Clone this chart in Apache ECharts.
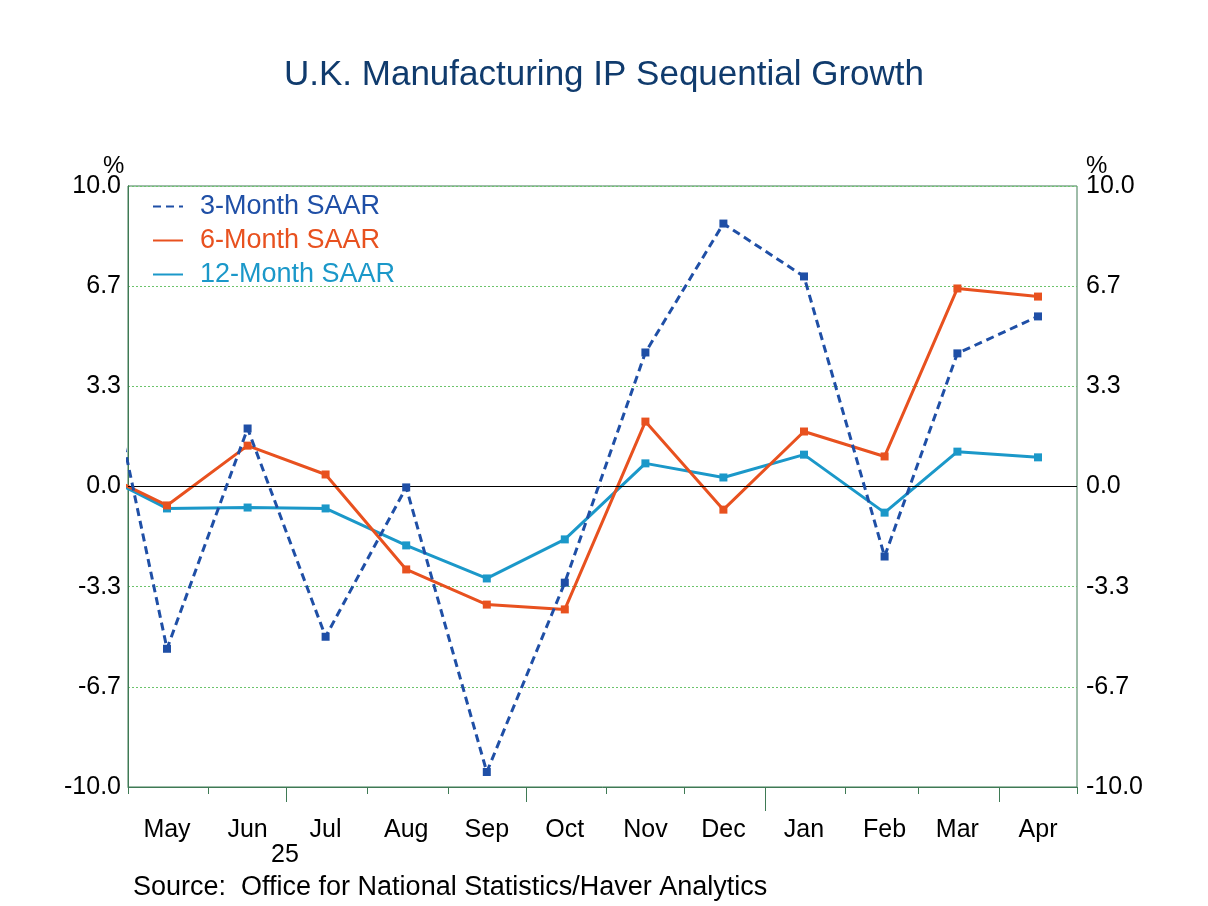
<!DOCTYPE html>
<html>
<head>
<meta charset="utf-8">
<script src="https://cdn.jsdelivr.net/npm/echarts@6/dist/echarts.min.js"></script>
<style>html,body{margin:0;padding:0;background:#fff;}#c{width:1208px;height:906px;}</style>
</head>
<body>
<div id="c"></div>
<script>
// Months shown (May 2024 .. Apr 2025); first data point (Apr 2024) lies left of the axis and is clipped
const months = ['May','Jun','Jul','Aug','Sep','Oct','Nov','Dec','Jan','Feb','Mar','Apr'];
const pointMonths = ['2024-04','2024-05','2024-06','2024-07','2024-08','2024-09','2024-10','2024-11','2024-12','2025-01','2025-02','2025-03','2025-04'];
const threeMonth = [6.9, -5.4, 1.93, -5.0, -0.03, -9.5, -3.2, 4.46, 8.75, 6.99, -2.33, 4.43, 5.66];
const sixMonth   = [0.63, -0.63, 1.36, 0.4, -2.76, -3.93, -4.09, 2.16, -0.77, 1.83, 1.0, 6.59, 6.32];
const twelveMonth= [0.59, -0.73, -0.7, -0.73, -1.96, -3.06, -1.76, 0.77, 0.3, 1.06, -0.87, 1.16, 0.97];
const yMin = -10, yMax = 10, yStep = 10 / 3;

const DAY = 86400000;
const origin = Date.UTC(2024, 4, 1);
function dayOf(y, m, d) { return (Date.UTC(y, m, d) - origin) / DAY; }
const monthStarts = [];
for (let i = 0; i <= 12; i++) monthStarts.push(dayOf(2024, 4 + i, 1));
const labelDays = months.map((m, i) => monthStarts[i] + 15);
const pointDays = pointMonths.map(s => { const [y, m] = s.split('-').map(Number); return dayOf(y, m - 1, 16); });
const quarterTicks = [monthStarts[2], monthStarts[5], monthStarts[11]];
const yearTicks = [monthStarts[8]];

function pairs(vals) { return vals.map((v, i) => [pointDays[i], v]); }

const green = '#3f7a55';
const c3 = '#1f4fa6', c6 = '#e8511f', c12 = '#1b98c9';
const font = 'Liberation Sans, Arial, sans-serif';

const chart = echarts.init(document.getElementById('c'));
const xBase = { type: 'value', min: 0, max: 365, gridIndex: 0, position: 'bottom', splitLine: { show: false } };
function fmtY(v) { const r = Math.round(v * 10) / 10; return (Math.abs(r) < 0.05 ? 0 : r).toFixed(1); }
chart.setOption({
  animation: false,
  backgroundColor: '#fff',
  textStyle: { fontFamily: font },
  title: { text: 'U.K. Manufacturing IP Sequential Growth', left: 'center', top: 53,
    textStyle: { fontFamily: font, fontSize: 35, fontWeight: 'normal', color: '#103b6d' } },
  grid: { left: 128, right: 131, top: 186, bottom: 119, show: true, borderColor: green, borderWidth: 1 },
  legend: {
    orient: 'vertical', left: 147, top: 188, itemWidth: 30, itemHeight: 12, itemGap: 7,
    itemStyle: { opacity: 0 },
    textStyle: { fontFamily: font, fontSize: 27, padding: [0, 0, 0, 12] },
    data: [
      { name: '3-Month SAAR', textStyle: { color: c3 } },
      { name: '6-Month SAAR', textStyle: { color: c6 } },
      { name: '12-Month SAAR', textStyle: { color: c12 } }
    ]
  },
  xAxis: [
    Object.assign({}, xBase, {
      axisLine: { show: true, onZero: false, lineStyle: { color: green } },
      axisTick: { show: true, customValues: monthStarts, length: 7, lineStyle: { color: green } },
      axisLabel: { show: true, customValues: labelDays, margin: 31, fontFamily: font, fontSize: 25, color: '#000',
        formatter: v => { const i = labelDays.indexOf(v); return i >= 0 ? months[i] : ''; } }
    }),
    Object.assign({}, xBase, {
      axisLine: { show: false, onZero: false },
      axisTick: { show: true, customValues: quarterTicks, length: 15, lineStyle: { color: green } },
      axisLabel: { show: false }
    }),
    Object.assign({}, xBase, {
      axisLine: { show: false, onZero: false },
      axisTick: { show: true, customValues: yearTicks, length: 24, lineStyle: { color: green } },
      axisLabel: { show: false }
    })
  ],
  yAxis: [
    { type: 'value', min: yMin, max: yMax, interval: yStep, position: 'left',
      axisLine: { show: true, lineStyle: { color: green } }, axisTick: { show: false },
      axisLabel: { margin: 7, fontFamily: font, fontSize: 25, color: '#000', formatter: fmtY },
      splitLine: { show: true, lineStyle: { color: '#6cc46c', type: [2, 2], width: 1 } }
    },
    { type: 'value', min: yMin, max: yMax, interval: yStep, position: 'right',
      axisLine: { show: true, lineStyle: { color: green } }, axisTick: { show: false },
      axisLabel: { margin: 9, fontFamily: font, fontSize: 25, color: '#000', formatter: fmtY },
      splitLine: { show: false }
    }
  ],
  graphic: [
    { type: 'text', left: 103, top: 154, style: { text: '%', fontFamily: font, fontSize: 24, fill: '#000' } },
    { type: 'text', left: 1086, top: 154, style: { text: '%', fontFamily: font, fontSize: 24, fill: '#000' } },
    { type: 'text', left: 271, top: 843, style: { text: '25', fontFamily: font, fontSize: 25, fill: '#000' } },
    { type: 'text', left: 133, top: 874, style: { text: 'Source:  Office for National Statistics/Haver Analytics', fontFamily: font, fontSize: 27, fill: '#000' } }
  ],
  series: [
    { name: '12-Month SAAR', type: 'line', data: pairs(twelveMonth), clip: true, symbol: 'rect', symbolSize: 8,
      lineStyle: { color: c12, width: 3 }, itemStyle: { color: c12 }, z: 3,
      markLine: { silent: true, symbol: 'none', label: { show: false }, lineStyle: { color: '#000', type: 'solid', width: 1 }, data: [{ yAxis: 0 }] } },
    { name: '6-Month SAAR', type: 'line', data: pairs(sixMonth), clip: true, symbol: 'rect', symbolSize: 8,
      lineStyle: { color: c6, width: 3 }, itemStyle: { color: c6 }, z: 4 },
    { name: '3-Month SAAR', type: 'line', data: pairs(threeMonth), clip: true, symbol: 'rect', symbolSize: 8,
      lineStyle: { color: c3, width: 3, type: [8, 5] }, itemStyle: { color: c3 }, z: 5 }
  ]
});
</script>
</body>
</html>
